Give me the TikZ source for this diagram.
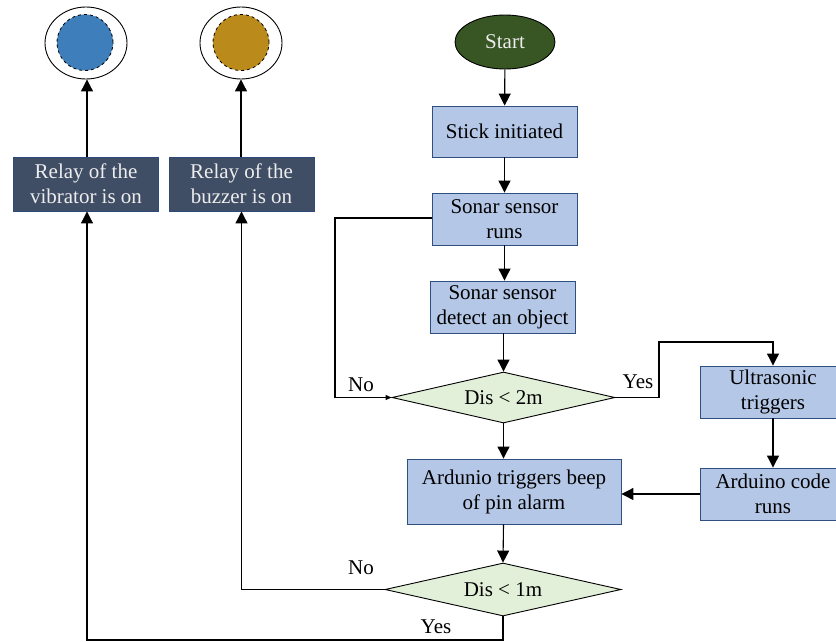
\documentclass[tikz,border=0pt]{standalone}
\usepackage{fontspec}
\setmainfont{Liberation Serif}
\usetikzlibrary{shapes.geometric,arrows.meta}
\definecolor{boxfill}{HTML}{B4C7E7}
\definecolor{boxline}{HTML}{2F4F80}
\definecolor{darkfill}{HTML}{3F4D65}
\definecolor{darkline}{HTML}{2E4A7A}
\definecolor{startfill}{HTML}{375623}
\definecolor{decfill}{HTML}{E2F0D9}
\definecolor{vibfill}{HTML}{3E7EBB}
\definecolor{buzfill}{HTML}{BA8B1A}
\definecolor{lighttext}{HTML}{EDEDED}
\tikzset{
  txt/.style={font=\fontsize{21}{25}\selectfont},
  procbox/.style={txt, draw=boxline, fill=boxfill, line width=0.9pt, inner sep=0pt, align=center},
  relaybox/.style={txt, draw=darkline, fill=darkfill, text=lighttext, line width=0.9pt, inner sep=0pt, align=center},
  decbox/.style={txt, diamond, aspect=4.4, draw=black, fill=decfill, line width=0.9pt, inner sep=0pt},
  startnode/.style={txt, ellipse, draw=black, fill=startfill, text=lighttext, line width=0.9pt, inner sep=0pt},
  ring/.style={ellipse, draw=black, line width=0.9pt, inner sep=0pt},
  lamp/.style={circle, dashed, draw=black, line width=0.8pt, inner sep=0pt, minimum size=56pt},
  conn/.style={draw=black, line width=1.1pt},
  arr/.style={conn, -{Triangle[length=12pt,width=12pt]}},
  arrsmall/.style={conn, -{Triangle[length=6pt,width=5pt]}},
  lbl/.style={txt, inner sep=0pt}
}
\begin{document}
\begin{tikzpicture}[x=1pt,y=-1pt]
\useasboundingbox (0,0) rectangle (836,641);
% indicators
\node[ring, minimum width=82pt, minimum height=72pt] (vring) at (86,43) {};
\node[lamp, fill=vibfill] (vlamp) at (85,42.5) {};
\node[ring, minimum width=82pt, minimum height=72pt] (bring) at (241,43) {};
\node[lamp, fill=buzfill] (blamp) at (241,42.5) {};
% relay boxes
\node[relaybox, minimum width=145pt, minimum height=54pt] (vib) at (86,184) {Relay of the\\vibrator is on};
\node[relaybox, minimum width=145pt, minimum height=54pt] (bz) at (241.5,184) {Relay of the\\buzzer is on};
% main column
\node[startnode, minimum width=100pt, minimum height=54pt] (start) at (505,42) {Start};
\node[procbox, minimum width=145pt, minimum height=51pt] (stick) at (504.5,131.5) {Stick initiated};
\node[procbox, minimum width=145pt, minimum height=52pt] (runs) at (504.5,219) {Sonar sensor\\runs};
\node[procbox, minimum width=145pt, minimum height=52pt] (detect) at (502.5,307) {Sonar sensor\\detect an object};
\node[decbox, minimum width=223pt, minimum height=51pt] (d2) at (503.5,397.5) {Dis < 2m};
\node[procbox, minimum width=214pt, minimum height=65pt] (ard) at (514,491.5) {Ardunio triggers beep\\of pin alarm};
\node[decbox, minimum width=236pt, minimum height=53pt] (d1) at (503,589.5) {Dis < 1m};
% right column
\node[procbox, minimum width=146pt, minimum height=52pt] (ultra) at (773,392) {Ultrasonic\\triggers};
\node[procbox, minimum width=146pt, minimum height=52pt] (code) at (773,494) {Arduino code\\runs};
% helper coordinates
\coordinate (nl) at (335,218);
\coordinate (yc) at (659,342);
\coordinate (yb) at (503,640);
% connectors
\draw[arr] (vib.north -| 87,0) -- (vring.south -| 87,0);
\draw[arr] (bz.north -| 241,0) -- (bring.south);
\draw[arr] (start) -- (stick);
\draw[arr] (stick.south) -- (stick.south |- runs.north);
\draw[arr] (runs.south) -- (runs.south |- detect.north);
\draw[arr] (detect.south -| d2.north) -- (d2.north);
\draw[arr] (d2.south) -- (d2.south |- ard.north);
\draw[arr] (d2.south |- ard.south) -- (d1.north);
\draw[arrsmall] (runs.west |- nl) -- (nl) |- (d2.west);
\draw[arr] (d2.east) -| (yc) -| (ultra.north);
\draw[arr] (ultra) -- (code);
\draw[arr] (code.west) -- (code.west -| ard.east);
\draw[arr] (d1.west) -| (bz.south);
\draw[arr] (d1.south) -- (yb) -| (vib.south -| 87,0);
% labels
\node[lbl] (no1) at (361,385) {No};
\node[lbl] (yes1) at (638,382) {Yes};
\node[lbl] (no2) at (361,568) {No};
\node[lbl] (yes2) at (436,627) {Yes};
\end{tikzpicture}
\end{document}
